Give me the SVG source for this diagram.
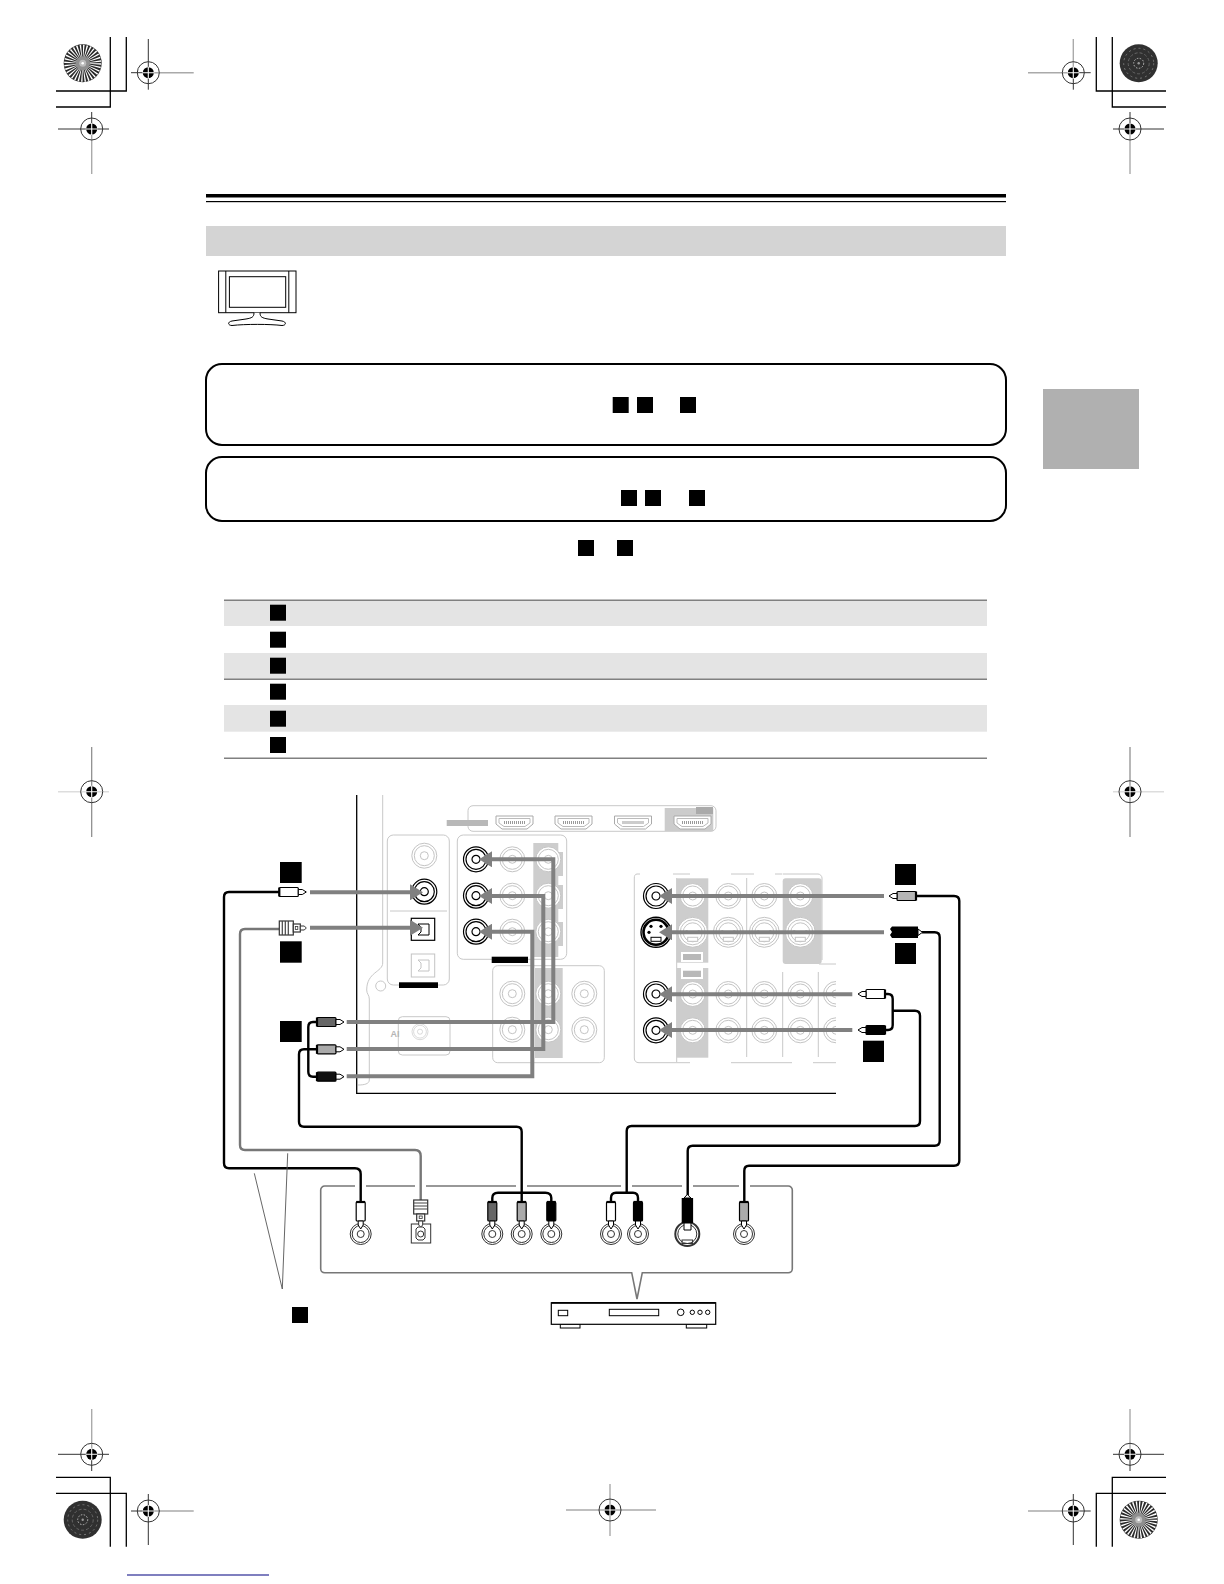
<svg xmlns="http://www.w3.org/2000/svg" width="1224" height="1584" viewBox="0 0 1224 1584">
<style>
.crop{fill:none;stroke:#000;stroke-width:1.3}
.rd{stroke:#333;stroke-width:1;fill:none}
.rg{stroke:#aaa;stroke-width:1.4;fill:none}
.sq{fill:#000}
.lt{fill:none;stroke:#c8c8c8;stroke-width:1}
.gb{fill:#cdcdcd;stroke:none}
.bar{fill:#000}
.arr{fill:none;stroke:#808080;stroke-width:4;marker-end:url(#ah)}
.cb{fill:none;stroke:#000;stroke-width:2.4;stroke-linejoin:round}
.cg{fill:none;stroke:#777;stroke-width:2.4;stroke-linejoin:round}
.halo{stroke:#fff;stroke-width:3;fill:none}
</style>
<defs>
<marker id="ah" markerUnits="userSpaceOnUse" markerWidth="14" markerHeight="16" refX="7" refY="8" orient="auto"><path d="M0 0L13 8L0 16Z" fill="#808080"/></marker>
<clipPath id="panelclip"><rect x="356" y="790" width="480" height="305"/></clipPath>
<g id="reg"><circle r="11" fill="none" stroke="#333" stroke-width="1"/><circle r="5.5" fill="#000"/><path d="M-6 0H6M0-6V6" stroke="#fff" stroke-width="1.1"/></g>
<g id="burst"><circle r="19" fill="#2a2a2a"/><circle r="12.5" fill="none" stroke="#fff" stroke-width="12" stroke-dasharray="1.05 1.4"/><circle r="7" fill="#8f8f8f"/><circle r="3.5" fill="#bbb"/><circle r="1.3" fill="#fff"/></g>
<g id="noise"><circle r="19" fill="#303030"/><circle r="15" fill="none" stroke="#777" stroke-width="1" stroke-dasharray="2 3"/><circle r="10.5" fill="none" stroke="#666" stroke-width="1" stroke-dasharray="3 2"/><circle r="5" fill="none" stroke="#bbb" stroke-width="1" stroke-dasharray="1.5 1.5"/><circle r="1.2" fill="#999"/></g>
<g id="jd"><circle r="12.5" fill="#fff" stroke="#000" stroke-width="1.2"/><circle r="10" fill="none" stroke="#000" stroke-width="1.2"/><circle r="4" fill="#fff" stroke="#000" stroke-width="1.2"/></g>
<g id="jl"><circle r="12.5" fill="#fff" stroke="#c4c4c4" stroke-width="1"/><circle r="10" fill="none" stroke="#c4c4c4" stroke-width="1"/><circle r="4" fill="#fff" stroke="#c4c4c4" stroke-width="1"/></g>
<g id="sd"><circle r="15" fill="#fff" stroke="#000" stroke-width="1.4"/><circle r="12.5" fill="none" stroke="#000" stroke-width="2.6"/><circle r="1.6" cx="-7" cy="0" fill="#000"/><circle r="1.6" cx="5" cy="-6" fill="#000"/><circle r="1.6" cx="-5" cy="-6" fill="#000"/><rect x="-5" y="5" width="10" height="4" fill="#fff" stroke="#000" stroke-width="1"/></g>
<g id="sl"><circle r="15" fill="#fff" stroke="#c4c4c4" stroke-width="1"/><circle r="12.5" fill="none" stroke="#c4c4c4" stroke-width="1"/><circle r="9.5" fill="none" stroke="#c4c4c4" stroke-width="1"/><rect x="-5" y="5" width="10" height="4" fill="#fff" stroke="#c4c4c4" stroke-width="1"/><circle r="1.3" cx="-6" cy="-1" fill="#c4c4c4"/><circle r="1.3" cx="6" cy="-1" fill="#c4c4c4"/></g>
<g id="hdmi"><path d="M0 0H37V8L31 13H6L0 8Z" fill="#fff" stroke="#aaa" stroke-width="1"/><path d="M3 2.500H34V7L29 10.500H8L3 7Z" fill="none" stroke="#bbb" stroke-width="1"/><path d="M8 6.500H29" stroke="#999" stroke-width="3" stroke-dasharray="1 1"/></g>
<g id="plug"><rect x="0" y="-4.500" width="19" height="9" rx="1" stroke="#000" stroke-width="1.2"/><path d="M0-4.500V4.500" stroke="#000" stroke-width="2.200"/><path d="M19-2.500H23L27 0L23 2.500H19Z" fill="#fff" stroke="#000" stroke-width="1"/></g>
<g id="opt"><rect x="0" y="-7" width="14" height="14" fill="#fff" stroke="#333" stroke-width="1.200"/><path d="M3-7V7M6-7V7M9-7V7" stroke="#444" stroke-width="1.200"/><rect x="14" y="-4" width="7" height="8" fill="#fff" stroke="#333" stroke-width="1.200"/><rect x="16" y="-1.500" width="2.500" height="3" fill="none" stroke="#333" stroke-width="0.800"/><path d="M21-2H25L27 0L25 2H21Z" fill="#fff" stroke="#333" stroke-width="1"/></g>
</defs>

<g id="crop-marks">
<path class="crop" d="M56 107H110.300V37M56 91H126.300V37M1166 91H1096.300V37M1166 107H1112.300V37M56 1477.300H110.300V1546.700M56 1493.300H126.300V1546.700M1166 1477.300H1112.300V1546.700M1166 1493.300H1096.300V1546.700"/>
<use href="#burst" x="82.700" y="63.300"/>
<use href="#noise" x="1138.700" y="63.300"/>
<use href="#noise" x="82.700" y="1519.700"/>
<use href="#burst" x="1138.700" y="1519.700"/>
</g>
<g id="registration">
<path class="rg" d="M148.300 72.700H193.700M91.700 129V174M1028 72.700H1073.300M1073.300 39V72M1130 129V174M91.700 1409V1454M148.300 1511H193.700M1028 1511H1073.300M1130 1409V1454M566 1510H656M610 1484V1536"/>
<path d="M58 791.700H109M1113 791.700H1164" stroke="#ddd" stroke-width="1.400" fill="none"/>
<path d="M91.700 747V837M1130 747V837" stroke="#888" stroke-width="1.200" fill="none"/>
<path class="rd" d="M131 72.700H148.300M148.300 39V89.700M58 129H109M91.700 112V129M1073.300 72V89.700M1073.300 72.700H1090.700M1113 129H1164M1130 112V129M58 1454.300H109M91.700 1454V1471M148.300 1494V1545M131 1511H148.300M1073.300 1494V1545M1073.300 1511H1090.700M1113 1454.300H1164M1130 1454V1471"/>
<use href="#reg" x="148.300" y="72.700"/><use href="#reg" x="91.700" y="129"/><use href="#reg" x="1073.300" y="72.700"/><use href="#reg" x="1130" y="129"/>
<use href="#reg" x="91.700" y="791.700"/><use href="#reg" x="1130" y="791.700"/>
<use href="#reg" x="91.700" y="1454.300"/><use href="#reg" x="148.300" y="1511"/><use href="#reg" x="610" y="1510"/><use href="#reg" x="1073.300" y="1511"/><use href="#reg" x="1130" y="1454.300"/>
</g>
<rect id="footer-link" x="127" y="1574.500" width="142" height="1" fill="#000080"/>
<rect id="side-tab" x="1043" y="389" width="96" height="80" fill="#b0b0b0"/>

<g id="header">
<rect x="206" y="194" width="800" height="3.500" fill="#000"/>
<rect x="206" y="201" width="800" height="1.200" fill="#000"/>
<rect x="206" y="226" width="800" height="30" fill="#d4d4d4"/>
</g>
<g id="tv-icon" fill="#fff" stroke="#000" stroke-width="1">
<rect x="218.600" y="271" width="77.400" height="41.700"/>
<path d="M225.800 271V312.700M288.800 271V312.700"/>
<rect x="229.400" y="276.700" width="56.300" height="30.600"/>
<path d="M254 312.700C254 317 252 318 246 319L232 321C227 322 228 325.500 232 325.500C245 324 270 324 282 325.500C286 325.500 287 322 282 321L268 319C262 318 260 317 260 312.700"/>
</g>
<g id="note-box-1">
<rect x="206" y="364" width="800" height="81" rx="16" fill="#fff" stroke="#000" stroke-width="2"/>
<rect class="sq" x="612.700" y="397" width="16" height="16"/><rect class="sq" x="637" y="397" width="16" height="16"/><rect class="sq" x="680" y="397" width="16" height="16"/>
</g>
<g id="note-box-2">
<rect x="206" y="457" width="800" height="64" rx="16" fill="#fff" stroke="#000" stroke-width="2"/>
<rect class="sq" x="621" y="490" width="16" height="16"/><rect class="sq" x="645" y="490" width="16" height="16"/><rect class="sq" x="689" y="490" width="16" height="16"/>
</g>
<g id="note-line"><rect class="sq" x="578" y="540" width="16" height="16"/><rect class="sq" x="617" y="540" width="16" height="16"/></g>
<g id="table">
<rect x="224" y="601" width="763" height="25" fill="#e4e4e4"/>
<rect x="224" y="653" width="763" height="26" fill="#e4e4e4"/>
<rect x="224" y="705" width="763" height="26.700" fill="#e4e4e4"/>
<rect x="224" y="599.500" width="763" height="1.500" fill="#808080"/>
<rect x="224" y="678.500" width="763" height="1.500" fill="#808080"/>
<rect x="224" y="757.500" width="763" height="1.500" fill="#808080"/>
<rect class="sq" x="270" y="604.700" width="16" height="16"/><rect class="sq" x="270" y="631.700" width="16" height="16"/><rect class="sq" x="270" y="657.700" width="16" height="16"/><rect class="sq" x="270" y="683.700" width="16" height="16"/><rect class="sq" x="270" y="710.700" width="16" height="16"/><rect class="sq" x="270" y="737" width="16" height="16"/>
</g>

<g id="receiver-panel" clip-path="url(#panelclip)">
<path class="lt" d="M382.700 795V963C382.700 972 366.700 972 366.700 990C366.700 994 369.300 995 369.300 999V1080C369.300 1084 364 1085 358 1085"/>
<circle class="lt" cx="380.700" cy="986" r="5"/>
<path d="M356.700 795V1093.300H836" fill="none" stroke="#000" stroke-width="1.300"/>
</g>
<g id="hdmi-panel">
<rect class="lt" x="468" y="805.700" width="248" height="25.600" rx="5"/>
<rect x="664.700" y="808" width="48.600" height="23" fill="#ccc"/>
<rect x="696" y="807" width="17" height="7" fill="#aaa"/>
<rect x="446.700" y="820" width="41.300" height="6" fill="#b8b8b8"/>
<use href="#hdmi" x="496" y="816"/><use href="#hdmi" x="555" y="816"/><use href="#hdmi" x="614.500" y="816"/><use href="#hdmi" x="674" y="816"/>
</g>
<g id="digital-in">
<rect class="lt" x="387.300" y="835" width="62" height="150" rx="6"/>
<path class="lt" d="M390 911H447"/>
<use href="#jl" x="424.300" y="855.700"/>
<use href="#jd" x="424.300" y="891.700"/>
<rect x="411.300" y="918.300" width="23.400" height="22" fill="#fff" stroke="#000" stroke-width="1.200"/>
<path d="M418 924H429V935H418L421 932V927Z" fill="none" stroke="#000" stroke-width="1"/>
<rect x="411.300" y="954" width="23.400" height="23" fill="#fff" stroke="#c4c4c4"/>
<path d="M418 960H429V971H418L421 968V963Z" fill="none" stroke="#c4c4c4" stroke-width="1"/>
<rect class="bar" x="399" y="982.300" width="39" height="5.700"/>
</g>
<g id="ai-jack">
<rect class="lt" x="398.300" y="1016.700" width="51.700" height="38.300" rx="4"/>
<use href="#jl" transform="translate(420 1031.700) scale(0.64)"/>
<text x="390.500" y="1036.500" font-family="Liberation Sans, Arial, sans-serif" font-size="9" font-weight="bold" fill="#b5b5b5">AI</text>
</g>
<g id="video-in">
<rect class="lt" x="457.300" y="835" width="109.400" height="124.300" rx="6"/>
<rect class="gb" x="533.300" y="843" width="25" height="114"/>
<rect class="gb" x="556" y="852" width="7" height="24"/><rect class="gb" x="556" y="885" width="7" height="24"/><rect class="gb" x="556" y="922" width="7" height="24"/>
<use href="#jd" x="476" y="859.300"/><use href="#jd" x="476" y="895.700"/><use href="#jd" x="476" y="931.700"/>
<use href="#jl" x="512.300" y="859.300"/><use href="#jl" x="512.300" y="895.700"/><use href="#jl" x="512.300" y="931.700"/>
<use href="#jl" x="548.300" y="859.300"/><use href="#jl" x="548.300" y="895.700"/><use href="#jl" x="548.300" y="931.700"/>
<rect class="bar" x="491.700" y="956.700" width="36.300" height="6.300"/>
</g>
<g id="lower-jacks">
<rect class="lt" x="492.700" y="965.700" width="111.600" height="97" rx="5"/>
<rect class="gb" x="535" y="968" width="27.700" height="90"/>
<use href="#jl" x="512.300" y="993.700"/><use href="#jl" x="512.300" y="1029.700"/>
<use href="#jl" x="548.300" y="993.700"/><use href="#jl" x="548.300" y="1029.700"/>
<use href="#jl" x="584.300" y="993.700"/><use href="#jl" x="584.300" y="1029.700"/>
</g>
<g id="dvd-in" clip-path="url(#panelclip)">
<path class="lt" d="M640 874H637C635 874 634.300 876 634.300 878V1058C634.300 1061 636 1062.700 639 1062.700H690M731 1062.700H792M813 1062.700H836M673 874H690M731 874H754M775 874H782M782.700 874H818C820 874 822 876 822 878V960M746.700 878V1057M782.700 972V1057M818.300 972V1057M676.700 1062V878M819 964H836"/>
<rect class="gb" x="676.700" y="878.300" width="31.600" height="84.400"/>
<rect class="gb" x="676.700" y="968" width="31.600" height="89.700"/>
<rect class="gb" x="782.700" y="878.300" width="39" height="85.700" rx="3"/>
<rect x="681" y="952" width="22" height="10" fill="#fff"/><rect x="681" y="968" width="22" height="11" fill="#fff"/>
<rect x="683" y="954" width="18" height="6" fill="#b8b8b8"/><rect x="683" y="970.700" width="18" height="6.300" fill="#b8b8b8"/>
<use href="#jl" x="692.700" y="896"/><use href="#jl" x="728.300" y="896"/><use href="#jl" x="764.300" y="896"/><use href="#jl" x="800.300" y="896"/>
<use href="#sl" x="692.700" y="932.300"/><use href="#sl" x="728.300" y="932.300"/><use href="#sl" x="764.300" y="932.300"/><use href="#sl" x="800.300" y="932.300"/>
<use href="#jl" x="692.700" y="994"/><use href="#jl" x="728.300" y="994"/><use href="#jl" x="764.300" y="994"/><use href="#jl" x="800.300" y="994"/><use href="#jl" x="836" y="994"/>
<use href="#jl" x="692.700" y="1030.300"/><use href="#jl" x="728.300" y="1030.300"/><use href="#jl" x="764.300" y="1030.300"/><use href="#jl" x="800.300" y="1030.300"/><use href="#jl" x="836" y="1030.300"/>
<use href="#jd" x="656" y="896"/><use href="#sd" x="656" y="932.300"/><use href="#jd" x="656" y="994"/><use href="#jd" x="656" y="1030.300"/>
</g>

<g id="source-box">
<path d="M324.700 1186H788.300C790.500 1186 792.300 1188 792.300 1190V1268.700C792.300 1271 790.500 1272.700 788.300 1272.700H642.300L637 1299L631.700 1272.700H324.700C322.500 1272.700 320.700 1271 320.700 1268.700V1190C320.700 1188 322.500 1186 324.700 1186Z" fill="#fff" stroke="#777" stroke-width="1.600"/>
<path class="halo" d="M355 1186H366M415 1186H426M516 1186H527M621 1186H632M682 1186H693M739 1186H750"/>
</g>
<g id="source-jacks">
<g fill="none" stroke="#333" stroke-width="1"><circle cx="360.700" cy="1234" r="10.500"/><circle cx="360.700" cy="1234" r="8.500"/><circle cx="360.700" cy="1234" r="3.500"/>
<circle cx="492.300" cy="1234" r="10.500"/><circle cx="492.300" cy="1234" r="8.500"/><circle cx="492.300" cy="1234" r="3.500"/>
<circle cx="521.700" cy="1234" r="10.500"/><circle cx="521.700" cy="1234" r="8.500"/><circle cx="521.700" cy="1234" r="3.500"/>
<circle cx="551.300" cy="1234" r="10.500"/><circle cx="551.300" cy="1234" r="8.500"/><circle cx="551.300" cy="1234" r="3.500"/>
<circle cx="611" cy="1234" r="10.500"/><circle cx="611" cy="1234" r="8.500"/><circle cx="611" cy="1234" r="3.500"/>
<circle cx="638" cy="1234" r="10.500"/><circle cx="638" cy="1234" r="8.500"/><circle cx="638" cy="1234" r="3.500"/>
<circle cx="744" cy="1234" r="10.500"/><circle cx="744" cy="1234" r="8.500"/><circle cx="744" cy="1234" r="3.500"/>
<rect x="411.300" y="1224" width="19.400" height="19"/><path d="M416 1229L418 1227H423L425 1229V1238L423 1240H418L416 1238Z"/><circle cx="420.700" cy="1234" r="3"/>
<circle cx="687.300" cy="1234" r="12" stroke-width="2"/><circle cx="687.300" cy="1234" r="9.500"/><rect x="682" y="1240" width="10.600" height="3.500"/></g>
</g>

<g id="connectors">
<path class="arr" d="M310 892.300H417"/>
<path class="arr" d="M310 927.700H417"/>
<path class="arr" d="M346.700 1022H553.300V859.300H485"/>
<path class="arr" d="M346.700 1049H543.300V896H485"/>
<path class="arr" d="M346.700 1076.300H532.300V931.700H485"/>
<path class="arr" d="M884 896H665"/>
<path class="arr" d="M884 932.300H665"/>
<path class="arr" d="M852.300 994.300H665"/>
<path class="arr" d="M852.300 1030H665"/>
<path class="cb" d="M279 892H229Q224 892 224 897V1163Q224 1168.300 229 1168.300H355Q360.700 1168.300 360.700 1174V1202"/>
<path class="cg" d="M279 929H245Q240 929 240 934V1145Q240 1150 245 1150H415Q420.700 1150 420.700 1156V1200"/>
<path class="cb" d="M317 1022H313Q308.300 1022 308.300 1027V1071.700Q308.300 1076.700 313 1076.700H317"/>
<path class="cb" d="M317 1049.300H304Q299 1049.300 299 1054.300V1121.700Q299 1126.700 304 1126.700H516.700Q521.700 1126.700 521.700 1131.700V1203"/>
<path class="cb" d="M916 896H954Q959.300 896 959.300 901V1160.700Q959.300 1165.700 954 1165.700H749Q744.300 1165.700 744.300 1170.700V1202"/>
<path class="cb" d="M922 932.300H934.700Q939.700 932.300 939.700 937.300V1140.700Q939.700 1145.700 934.700 1145.700H692.700Q687.700 1145.700 687.700 1150.700V1195"/>
<path class="cb" d="M885 994H888Q892.700 994 892.700 999V1025Q892.700 1030 888 1030H885"/>
<path class="cb" d="M892.700 1010.700H915Q920 1010.700 920 1015.700V1121Q920 1126 915 1126H631.700Q626.700 1126 626.700 1131V1192.700"/>
<path class="cb" d="M492.300 1203V1198Q492.300 1192.700 498 1192.700H545.300Q551.300 1192.700 551.300 1198V1203"/>
<path class="cb" d="M611 1203V1198Q611 1192.700 616 1192.700H633Q638 1192.700 638 1198V1203"/>
<path d="M254.300 1173.300L282.300 1289L287.700 1153.300" fill="none" stroke="#555" stroke-width="0.900"/>
</g>

<g id="plugs">
<use href="#plug" x="279.300" y="892" fill="#fff"/>
<use href="#opt" x="279.300" y="928"/>
<use href="#plug" x="317" y="1022" fill="#666"/>
<use href="#plug" x="317" y="1049.300" fill="#aaa"/>
<use href="#plug" x="317" y="1076.700" fill="#111"/>
<use href="#plug" transform="translate(916 896) scale(-1 1)" fill="#b5b5b5"/>
<use href="#plug" transform="translate(885 994) scale(-1 1)" fill="#fff"/>
<use href="#plug" transform="translate(885 1030) scale(-1 1)" fill="#000"/>
<g id="svideo-plug-right"><path d="M892 926.500H918V938H892L890 935L892 932L890 929Z" fill="#000"/><path d="M918 929L922.500 932.300L918 935.500Z" fill="#fff" stroke="#000"/></g>
<use href="#plug" transform="translate(360.700 1202) rotate(90)" fill="#fff"/>
<use href="#opt" transform="translate(420.700 1200) rotate(90)"/>
<use href="#plug" transform="translate(492.300 1202) rotate(90)" fill="#666"/>
<use href="#plug" transform="translate(521.700 1202) rotate(90)" fill="#aaa"/>
<use href="#plug" transform="translate(551.300 1202) rotate(90)" fill="#000"/>
<use href="#plug" transform="translate(611 1202) rotate(90)" fill="#fff"/>
<use href="#plug" transform="translate(638 1202) rotate(90)" fill="#000"/>
<use href="#plug" transform="translate(744 1202) rotate(90)" fill="#aaa"/>
<g id="svideo-plug-bottom"><path d="M684 1198L687.300 1194.500L691 1198Z" fill="#fff" stroke="#000"/><rect x="681.700" y="1198" width="11.400" height="25" fill="#000"/><path d="M684 1223H691V1230H684Z" fill="#fff" stroke="#000"/></g>
</g>

<g id="step-labels">
<rect class="sq" x="280" y="862" width="21.700" height="21"/>
<rect class="sq" x="280" y="941.300" width="21.700" height="21.400"/>
<rect class="sq" x="280" y="1021" width="21.700" height="21"/>
<rect class="sq" x="895" y="864" width="21" height="21"/>
<rect class="sq" x="895" y="943" width="21" height="21"/>
<rect class="sq" x="863" y="1040.700" width="21" height="21.300"/>
<rect class="sq" x="292" y="1307" width="16" height="16"/>
</g>

<g id="dvd-player">
<rect x="560.300" y="1324" width="19.700" height="4" fill="#fff" stroke="#000" stroke-width="1"/>
<rect x="686.300" y="1324" width="20.400" height="4" fill="#fff" stroke="#000" stroke-width="1"/>
<rect x="551.300" y="1302.800" width="164.400" height="21.500" fill="#fff" stroke="#000" stroke-width="1.200"/>
<path d="M551.300 1302.800H715.700" stroke="#000" stroke-width="1.800"/>
<g fill="#fff" stroke="#000" stroke-width="1"><rect x="558.300" y="1310.300" width="9.400" height="5.400"/><rect x="609.300" y="1309.300" width="49.400" height="6.400"/><circle cx="680.700" cy="1312.300" r="3.300"/><circle cx="692.300" cy="1312.300" r="2.200"/><circle cx="700" cy="1312.300" r="2.200"/><circle cx="707.700" cy="1312.300" r="2.200"/></g>
</g>
</svg>
